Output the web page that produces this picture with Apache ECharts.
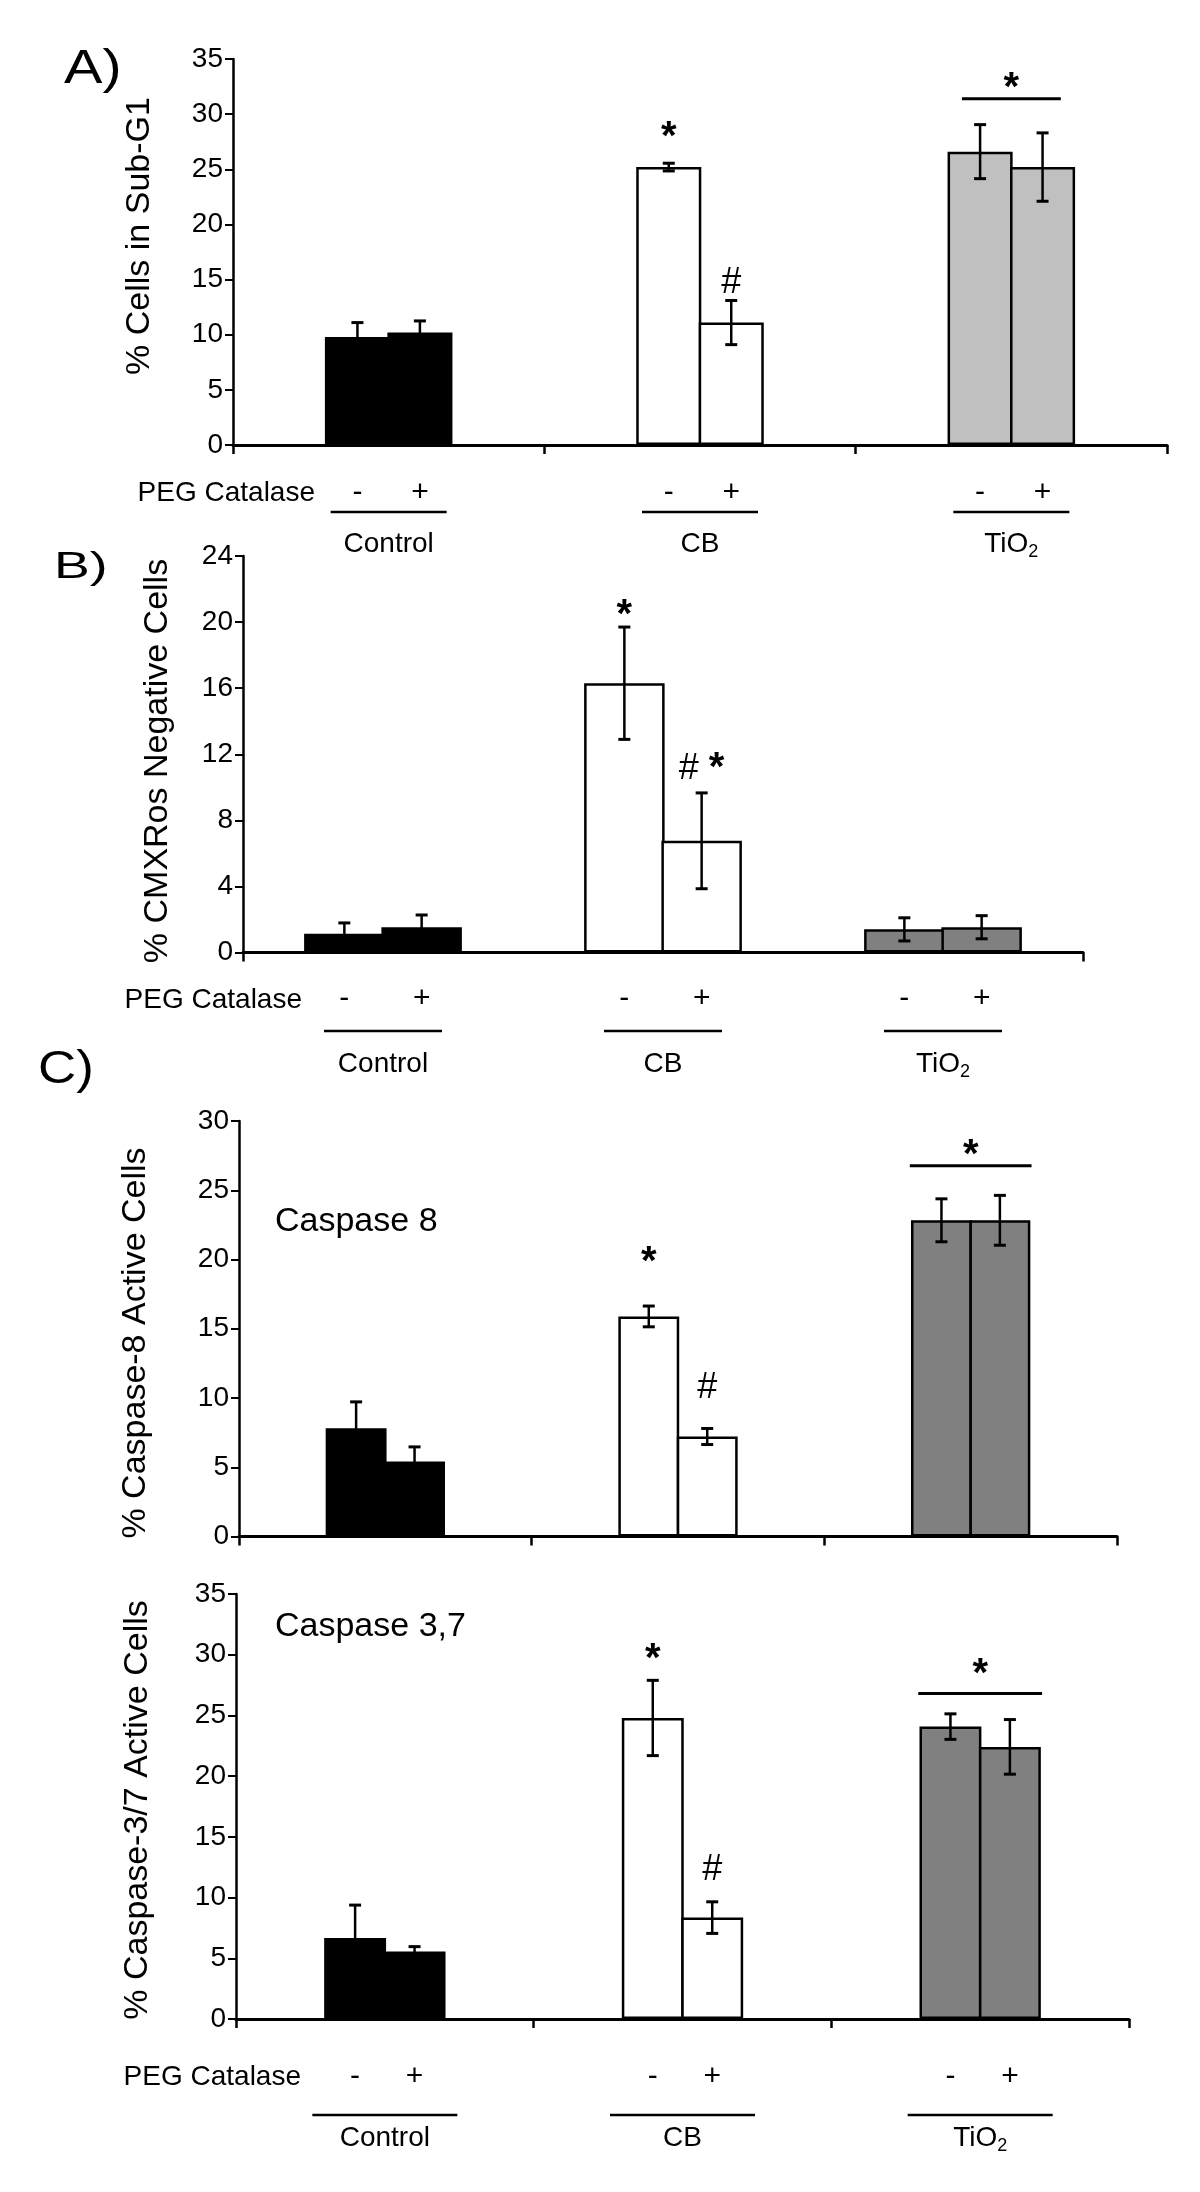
<!DOCTYPE html>
<html>
<head>
<meta charset="utf-8">
<script src="https://cdn.jsdelivr.net/npm/echarts@6/dist/echarts.min.js"></script>
<style>
html,body{margin:0;padding:0;background:#fff;}
#chart{width:1200px;height:2192px;}
</style>
</head>
<body>
<div id="chart"></div>
<script>
// ---------- data ----------
const categories = ['Control', 'CB', 'TiO2'];
const treatLabels = ['-', '+'];

// A) % Cells in Sub-G1
const aTitle = '% Cells in Sub-G1';
const aMinus = [9.8, 25.2, 26.6];
const aPlus = [10.2, 11.1, 25.2];
const aMinusErr = [1.3, 0.35, 2.45];
const aPlusErr = [1.05, 2.0, 3.1];
const aMinusMark = ['', '*', ''];
const aMinusMarkY = [null, 27.8, null];
const aPlusMark = ['', '#', ''];
const aPlusMarkY = [null, 14.7, null];
const aGroupMark = ['', '', '*'];
const aGroupLineY = [null, null, 31.4];
const aGroupMarkY = [null, null, 32.3];

// B) % CMXRos Negative Cells
const bTitle = '% CMXRos Negative Cells';
const bMinus = [1.14, 16.3, 1.40];
const bPlus = [1.53, 6.76, 1.53];
const bMinusErr = [0.65, 3.4, 0.7];
const bPlusErr = [0.74, 2.9, 0.7];
const bMinusMark = ['', '*', ''];
const bMinusMarkY = [null, 20.4, null];
const bPlusMark = ['', '# *', ''];
const bPlusMarkY = [null, 11.1, null];

// C) Caspase 8
const c8Title = '% Caspase-8 Active Cells';
const c8Minus = [7.82, 15.89, 22.83];
const c8Plus = [5.42, 7.22, 22.83];
const c8MinusErr = [1.9, 0.75, 1.55];
const c8PlusErr = [1.05, 0.58, 1.8];
const c8MinusMark = ['', '*', ''];
const c8MinusMarkY = [null, 19.74, null];
const c8PlusMark = ['', '#', ''];
const c8PlusMarkY = [null, 10.72, null];
const c8GroupMark = ['', '', '*'];
const c8GroupLineY = [null, null, 26.77];
const c8GroupMarkY = [null, null, 27.5];

// C) Caspase 3,7
const c37Title = '% Caspase-3/7 Active Cells';
const c37Minus = [6.68, 24.79, 24.08];
const c37Plus = [5.56, 8.35, 22.41];
const c37MinusErr = [2.7, 3.1, 1.05];
const c37PlusErr = [0.4, 1.3, 2.25];
const c37MinusMark = ['', '*', ''];
const c37MinusMarkY = [null, 29.55, null];
const c37PlusMark = ['', '#', ''];
const c37PlusMarkY = [null, 12.26, null];
const c37GroupMark = ['', '', '*'];
const c37GroupLineY = [null, null, 26.81];
const c37GroupMarkY = [null, null, 28.31];

// ---------- helpers ----------
const FONT = "'Liberation Sans', Arial, Helvetica, sans-serif";
const GAP = -0.04; // bars of a pair share their border
const RICH_MARK = {
  h: {fontSize: 36, fontFamily: FONT, color: '#000'},
  w: {fontSize: 36, fontFamily: FONT, color: '#000'},
  s: {fontSize: 40, fontWeight: 'bold', fontFamily: FONT, color: '#000'}
};
function richify(t) {
  return t.split('').map(ch => ch === '#' ? '{h|#}' : ch === '*' ? '{s|*}' : '{w|' + ch + '}').join('');
}
function errRender(side, barFrac) {
  return function (params, api) {
    const k = api.value(0), v = api.value(1), e = api.value(2);
    const band = api.size([1, 0])[0];
    const cx = api.coord([k, 0])[0] + side * band * barFrac * (1 + GAP) / 2;
    const yHi = api.coord([k, v + e])[1];
    const yLo = api.coord([k, Math.max(0, v - e)])[1];
    const cap = 6;
    return {type: 'group', children: [
      {type: 'line', shape: {x1: cx, y1: yHi, x2: cx, y2: yLo}, style: {stroke: '#000', lineWidth: 2.5}},
      {type: 'line', shape: {x1: cx - cap, y1: yHi, x2: cx + cap, y2: yHi}, style: {stroke: '#000', lineWidth: 3}},
      {type: 'line', shape: {x1: cx - cap, y1: yLo, x2: cx + cap, y2: yLo}, style: {stroke: '#000', lineWidth: 3}}
    ]};
  };
}
function markRender(side, barFrac, marks) {
  return function (params, api) {
    const k = api.value(0), y = api.value(1);
    const band = api.size([1, 0])[0];
    const cx = api.coord([k, 0])[0] + side * band * barFrac * (1 + GAP) / 2;
    const cy = api.coord([k, y])[1];
    return {type: 'text', x: cx, y: cy, style: {text: richify(marks[k]), rich: RICH_MARK, align: 'center', verticalAlign: 'middle', fill: '#000'}};
  };
}
function groupRender(barFrac, lineFrac, marks) {
  return function (params, api) {
    const k = api.value(0), ly = api.value(1), sy = api.value(2);
    const band = api.size([1, 0])[0];
    const cx = api.coord([k, 0])[0];
    const half = band * barFrac * lineFrac;
    const yl = api.coord([k, ly])[1];
    const ys = api.coord([k, sy])[1];
    return {type: 'group', children: [
      {type: 'line', shape: {x1: cx - half, y1: yl, x2: cx + half, y2: yl}, style: {stroke: '#000', lineWidth: 3}},
      {type: 'text', x: cx, y: ys, style: {text: richify(marks[k]), rich: RICH_MARK, align: 'center', verticalAlign: 'middle', fill: '#000'}}
    ]};
  };
}
function pick(marks, ys) {
  return marks.map((m, k) => m ? [k, ys[k]] : null).filter(Boolean);
}

const grids = [], xAxes = [], yAxes = [], series = [];
function addPanel(i, cfg) {
  grids.push(Object.assign({containLabel: false}, cfg.grid));
  xAxes.push({
    type: 'category', gridIndex: i, data: categories,
    axisLine: {show: true, lineStyle: {color: '#000', width: 3}},
    axisTick: {show: true, length: 9, interval: cfg.endTickOnly ? (idx => idx === 0) : 0,
      lineStyle: {color: '#000', width: 2.5}},
    axisLabel: cfg.xLabels ? {
      show: true, interval: 0, margin: cfg.margin,
      formatter: function (v) {
        const nm = v === 'TiO2' ? '{nm|TiO}{sub|2}' : '{nm|' + v + '}';
        return '{ln| }\n{sp| }\n' + nm;
      },
      rich: {
        ln: {width: cfg.lineW, height: 0, lineHeight: 3, borderColor: '#000', borderWidth: 2.5, fontSize: 1},
        sp: {lineHeight: cfg.sp, fontSize: 1},
        nm: {fontSize: 28, lineHeight: 34, fontFamily: FONT, color: '#000'},
        sub: {fontSize: 18, lineHeight: 14, verticalAlign: 'bottom', fontFamily: FONT, color: '#000'}
      }
    } : {show: false},
    splitLine: {show: false}
  });
  yAxes.push({
    type: 'value', gridIndex: i, min: 0, max: cfg.max, interval: cfg.interval,
    axisLine: {show: true, lineStyle: {color: '#000', width: 2.5}},
    axisTick: {show: true, length: 8, lineStyle: {color: '#000', width: 2}},
    axisLabel: {fontSize: 28, color: '#000', margin: 10, fontFamily: FONT},
    splitLine: {show: false}
  });
  const pct = (cfg.barFrac * 100).toFixed(2) + '%';
  const gapPct = (GAP * 100).toFixed(1) + '%';
  const fillFn = p => cfg.fills[p.dataIndex];
  [[cfg.minus, cfg.minusErr, 0, -1], [cfg.plus, cfg.plusErr, 1, 1]].forEach(([vals, errs, t, side]) => {
    series.push({
      type: 'bar', xAxisIndex: i, yAxisIndex: i, data: vals,
      barWidth: pct, barGap: gapPct, z: 2,
      itemStyle: {color: fillFn, borderColor: '#000', borderWidth: 2.5},
      label: cfg.signs ? {show: true, position: 'bottom', distance: cfg.signDist, formatter: treatLabels[t],
        fontSize: 30, color: '#000', fontFamily: FONT} : {show: false}
    });
    series.push({
      type: 'custom', xAxisIndex: i, yAxisIndex: i, z: 5, clip: false,
      data: vals.map((v, k) => [k, v, errs[k]]),
      renderItem: errRender(side, cfg.barFrac)
    });
  });
  series.push({type: 'custom', xAxisIndex: i, yAxisIndex: i, z: 6, clip: false,
    data: pick(cfg.minusMark, cfg.minusMarkY), renderItem: markRender(-1, cfg.barFrac, cfg.minusMark)});
  series.push({type: 'custom', xAxisIndex: i, yAxisIndex: i, z: 6, clip: false,
    data: pick(cfg.plusMark, cfg.plusMarkY), renderItem: markRender(1, cfg.barFrac, cfg.plusMark)});
  if (cfg.groupMark) {
    series.push({type: 'custom', xAxisIndex: i, yAxisIndex: i, z: 6, clip: false,
      data: cfg.groupMark.map((m, k) => m ? [k, cfg.groupLineY[k], cfg.groupMarkY[k]] : null).filter(Boolean),
      renderItem: groupRender(cfg.barFrac, cfg.lineFrac, cfg.groupMark)});
  }
}

addPanel(0, {
  grid: {left: 233, top: 59, width: 934, height: 386}, max: 35, interval: 5,
  fills: ['#000000', '#ffffff', '#c0c0c0'], barFrac: 0.209,
  minus: aMinus, plus: aPlus, minusErr: aMinusErr, plusErr: aPlusErr,
  minusMark: aMinusMark, minusMarkY: aMinusMarkY, plusMark: aPlusMark, plusMarkY: aPlusMarkY,
  groupMark: aGroupMark, groupLineY: aGroupLineY, groupMarkY: aGroupMarkY, lineFrac: 0.76,
  signs: true, signDist: 33, xLabels: true, lineW: 116, margin: 65.5, sp: 13.5
});
addPanel(1, {
  grid: {left: 243, top: 556, width: 840, height: 396.5}, max: 24, interval: 4,
  fills: ['#000000', '#ffffff', '#808080'], barFrac: 0.2875,
  minus: bMinus, plus: bPlus, minusErr: bMinusErr, plusErr: bPlusErr,
  minusMark: bMinusMark, minusMarkY: bMinusMarkY, plusMark: bPlusMark, plusMarkY: bPlusMarkY,
  groupMark: null, endTickOnly: true,
  signs: true, signDist: 31.5, xLabels: true, lineW: 118, margin: 77, sp: 14.5
});
addPanel(2, {
  grid: {left: 239, top: 1121, width: 878, height: 415.5}, max: 30, interval: 5,
  fills: ['#000000', '#ffffff', '#808080'], barFrac: 0.208,
  minus: c8Minus, plus: c8Plus, minusErr: c8MinusErr, plusErr: c8PlusErr,
  minusMark: c8MinusMark, minusMarkY: c8MinusMarkY, plusMark: c8PlusMark, plusMarkY: c8PlusMarkY,
  groupMark: c8GroupMark, groupLineY: c8GroupLineY, groupMarkY: c8GroupMarkY, lineFrac: 1.0,
  signs: false, xLabels: false
});
addPanel(3, {
  grid: {left: 236, top: 1594, width: 893, height: 425}, max: 35, interval: 5,
  fills: ['#000000', '#ffffff', '#808080'], barFrac: 0.208,
  minus: c37Minus, plus: c37Plus, minusErr: c37MinusErr, plusErr: c37PlusErr,
  minusMark: c37MinusMark, minusMarkY: c37MinusMarkY, plusMark: c37PlusMark, plusMarkY: c37PlusMarkY,
  groupMark: c37GroupMark, groupLineY: c37GroupLineY, groupMarkY: c37GroupMarkY, lineFrac: 1.0,
  signs: true, signDist: 43, xLabels: true, lineW: 145, margin: 94.5, sp: 5
});

function txt(x, y, text, size, opts) {
  return Object.assign({type: 'text', x: x, y: y, silent: true,
    style: Object.assign({text: text, fontSize: size, fontFamily: FONT, fill: '#000', align: 'left', verticalAlign: 'middle'}, (opts && opts.style) || {})
  }, (opts && opts.el) || {});
}
const graphic = [
  txt(64, 70, 'A)', 48, {el: {scaleX: 1.2}}),
  txt(54, 568, 'B)', 37, {el: {scaleX: 1.45}}),
  txt(38, 1070, 'C)', 46, {el: {scaleX: 1.15}}),
  txt(140, 236, aTitle, 34, {style: {align: 'center'}, el: {rotation: Math.PI / 2}}),
  txt(158, 761, bTitle, 34, {style: {align: 'center'}, el: {rotation: Math.PI / 2}}),
  txt(136, 1343, c8Title, 34, {style: {align: 'center'}, el: {rotation: Math.PI / 2}}),
  txt(138, 1810, c37Title, 34, {style: {align: 'center'}, el: {rotation: Math.PI / 2}}),
  txt(315, 493, 'PEG Catalase', 28, {style: {align: 'right'}}),
  txt(302, 1000, 'PEG Catalase', 28, {style: {align: 'right'}}),
  txt(301, 2077, 'PEG Catalase', 28, {style: {align: 'right'}}),
  txt(275, 1222, 'Caspase 8', 34),
  txt(275, 1627, 'Caspase 3,7', 34)
];

const chart = echarts.init(document.getElementById('chart'), null, {renderer: 'canvas'});
chart.setOption({
  backgroundColor: '#ffffff',
  animation: false,
  grid: grids, xAxis: xAxes, yAxis: yAxes, series: series,
  graphic: graphic
});
</script>
</body>
</html>
